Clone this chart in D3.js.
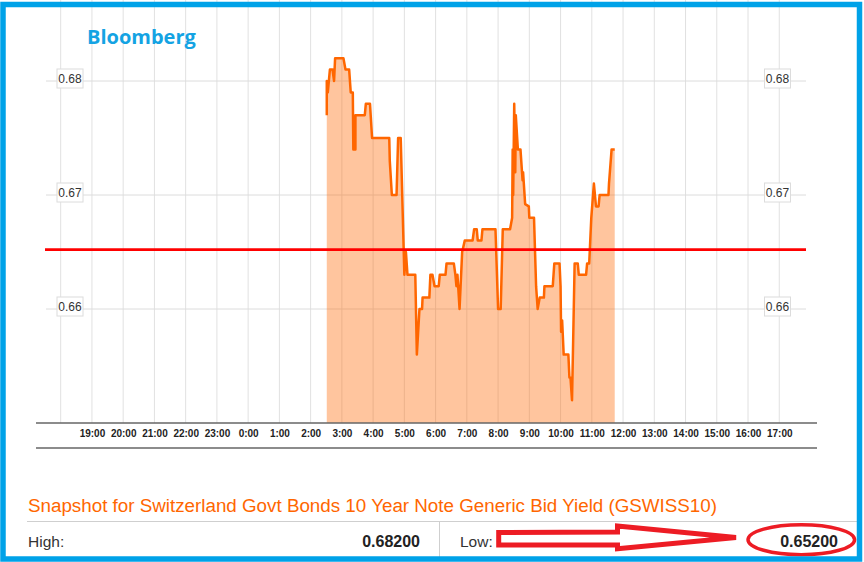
<!DOCTYPE html>
<html>
<head>
<meta charset="utf-8">
<script src="https://cdn.jsdelivr.net/npm/d3@7"></script>
<style>
  body { margin: 0; background: #fff; }
  svg { display: block; }
</style>
</head>
<body>
<div class="chart"></div>
<script>
const width = 864, height = 562;

// session quotes (times are the morning after 18:00)
const times = [
  "02:31","02:31","02:33","02:37","02:42","02:45","02:47",
  "03:03","03:07","03:14","03:17","03:21","03:22","03:26","03:26","03:44","03:46","03:54","03:58",
  "04:31","04:32","04:36","04:45","04:48","04:53",
  "05:00","05:03","05:06","05:21","05:24","05:29","05:34","05:35","05:48","05:50","05:54","05:58",
  "06:06","06:08","06:19","06:21","06:35","06:38","06:40","06:42","06:46","06:51","06:56",
  "07:11","07:14","07:19","07:21","07:28","07:30","07:55",
  "08:00","08:05","08:09","08:23","08:27","08:28","08:29","08:31","08:33","08:34","08:38","08:43","08:47","08:48","08:52","08:59",
  "09:00","09:09","09:13","09:16","09:20","09:28","09:29","09:45","09:48","09:58",
  "10:00","10:01","10:03","10:04","10:06","10:15","10:17","10:19","10:22","10:27","10:33","10:35","10:49","10:51","10:55","10:59",
  "11:04","11:08","11:13","11:15","11:32","11:33","11:38","11:44"
];
const yields = [
  0.677,0.680,0.679,0.681,0.681,0.680,0.682,
  0.682,0.681,0.681,0.679,0.679,0.674,0.674,0.677,0.677,0.678,0.678,0.675,
  0.675,0.673,0.670,0.670,0.675,0.675,
  0.663,0.665,0.663,0.663,0.656,0.660,0.660,0.661,0.661,0.663,0.663,0.662,
  0.662,0.663,0.663,0.664,0.664,0.663,0.662,0.663,0.660,0.665,0.666,
  0.666,0.667,0.667,0.666,0.666,0.667,0.667,
  0.660,0.660,0.667,0.667,0.668,0.674,0.670,0.678,0.672,0.677,0.674,0.674,0.6713,0.672,0.6692,0.669,
  0.668,0.668,0.662,0.660,0.661,0.661,0.662,0.662,0.664,0.664,
  0.662,0.658,0.659,0.658,0.656,0.656,0.654,0.654,0.652,0.664,0.664,0.663,0.663,0.664,0.664,0.668,
  0.671,0.669,0.669,0.670,0.670,0.671,0.674,0.674
];
const yTicks = [0.66, 0.67, 0.68];
const refLevel = 0.6652;      // red line drawn over the chart
const high = 0.682, low = 0.652;
const title = "Snapshot for Switzerland Govt Bonds 10 Year Note Generic Bid Yield (GSWISS10)";

const parseT = d3.timeParse("%Y-%m-%d %H:%M");
const start = parseT("2015-01-01 18:00"), end = parseT("2015-01-02 18:00");
const data = times.map((t, i) => ({ date: parseT("2015-01-02 " + t), value: yields[i] }));

const svg = d3.select(".chart")
    .append("svg")
    .attr("width", width)
    .attr("height", height)
    .attr("viewBox", [0, 0, width, height]);

const x = d3.scaleTime().domain([start, end]).range([60.7, 810.5]);
const y = d3.scaleLinear().domain([0.65, 0.68]).range([423, 81]);
const hours = d3.timeHour.range(start, end);

// grid
svg.append("g")
    .selectAll("line")
    .data(hours)
    .join("line")
    .attr("x1", d => x(d)).attr("x2", d => x(d))
    .attr("y1", 0).attr("y2", y(0.65))
    .attr("stroke", "#e1e1e1");

svg.append("g")
    .selectAll("line")
    .data(yTicks)
    .join("line")
    .attr("x1", 46).attr("x2", 806)
    .attr("y1", d => y(d)).attr("y2", d => y(d))
    .attr("stroke", "#dcdcdc");

// area + line
const area = d3.area()
    .x(d => x(d.date))
    .y0(y(0.65))
    .y1(d => y(d.value));
const line = d3.line()
    .x(d => x(d.date))
    .y(d => y(d.value));

svg.append("path")
    .datum(data)
    .attr("d", area)
    .attr("fill", "#ff6600")
    .attr("fill-opacity", 0.38);

svg.append("path")
    .datum(data)
    .attr("d", line)
    .attr("fill", "none")
    .attr("stroke", "#ff6600")
    .attr("stroke-width", 2.5)
    .attr("stroke-linejoin", "round");

// red reference line
svg.append("line")
    .attr("x1", 45).attr("x2", 806)
    .attr("y1", y(refLevel)).attr("y2", y(refLevel))
    .attr("stroke", "#ff0000")
    .attr("stroke-width", 2.8);

// y labels in little boxes, both sides
[70, 777.5].forEach(cx => {
    const g = svg.append("g")
        .selectAll("g")
        .data(yTicks)
        .join("g")
        .attr("transform", d => `translate(${cx},${y(d) - 2.5})`);
    g.append("rect")
        .attr("x", -13).attr("y", -9.5)
        .attr("width", 26).attr("height", 19)
        .attr("fill", "#fff")
        .attr("stroke", "#dcdcdc");
    g.append("text")
        .attr("text-anchor", "middle")
        .attr("dy", "0.36em")
        .attr("font-family", "Liberation Sans, Arial, sans-serif")
        .attr("font-size", 12)
        .attr("fill", "#333")
        .text(d3.format(".2f"));
});

// x axis
[423, 448].forEach(ly => {
    svg.append("line")
        .attr("x1", 36).attr("x2", 817)
        .attr("y1", ly).attr("y2", ly)
        .attr("stroke", "#666")
        .attr("stroke-width", 1.5);
});

const xAxis = svg.append("g")
    .attr("transform", "translate(0,426.5)")
    .call(d3.axisBottom(x)
        .tickValues(hours.slice(1))
        .tickFormat(d3.timeFormat("%-H:%M"))
        .tickSize(0));
xAxis.select(".domain").remove();
xAxis.selectAll("text")
    .attr("font-family", "Liberation Sans, Arial, sans-serif")
    .attr("font-size", 10)
    .attr("font-weight", "bold")
    .attr("fill", "#222");

// Bloomberg tag
svg.append("text")
    .attr("x", 87).attr("y", 44)
    .attr("font-family", "Open Sans, sans-serif")
    .attr("font-weight", "bold")
    .attr("font-size", 20)
    .attr("fill", "#14a3e3")
    .text("Bloomberg");

// snapshot table
svg.append("text")
    .attr("x", 28).attr("y", 511.5)
    .attr("font-family", "Liberation Sans, Arial, sans-serif")
    .attr("font-size", 18.8)
    .attr("fill", "#ff6600")
    .text(title);

svg.append("line")
    .attr("x1", 27).attr("x2", 858)
    .attr("y1", 521.5).attr("y2", 521.5)
    .attr("stroke", "#cfcfcf");
svg.append("line")
    .attr("x1", 439.5).attr("x2", 439.5)
    .attr("y1", 521.5).attr("y2", 557)
    .attr("stroke", "#cfcfcf");

const fmt = d3.format(".5f");
const cells = [
    { label: "High:", lx: 28, value: high, vx: 420 },
    { label: "Low:", lx: 460, value: low, vx: 838 }
];
cells.forEach(c => {
    svg.append("text")
        .attr("x", c.lx).attr("y", 547)
        .attr("font-family", "Liberation Sans, Arial, sans-serif")
        .attr("font-size", 15.5)
        .attr("fill", "#333")
        .text(c.label);
    svg.append("text")
        .attr("x", c.vx).attr("y", 547)
        .attr("text-anchor", "end")
        .attr("font-family", "Liberation Sans, Arial, sans-serif")
        .attr("font-size", 16)
        .attr("font-weight", "bold")
        .attr("fill", "#222")
        .text(fmt(c.value));
});

// red hand-drawn arrow and ring
svg.append("path")
    .attr("d", "M498.7,532.5 L617.5,532 L617.5,526 L736,537.5 L617.5,548.8 L617.5,545 L498.7,545 Z")
    .attr("fill", "none")
    .attr("stroke", "#ed1c24")
    .attr("stroke-width", 5)
    .attr("stroke-linejoin", "miter");

svg.append("ellipse")
    .attr("cx", 801.3).attr("cy", 539.7)
    .attr("rx", 53.3).attr("ry", 15)
    .attr("fill", "none")
    .attr("stroke", "#ed1c24")
    .attr("stroke-width", 3.5);

// blue frame
svg.append("rect")
    .attr("x", 3).attr("y", 4.5)
    .attr("width", 856.5).attr("height", 554.5)
    .attr("fill", "none")
    .attr("stroke", "#00a2e8")
    .attr("stroke-width", 5.5);
</script>
</body>
</html>
